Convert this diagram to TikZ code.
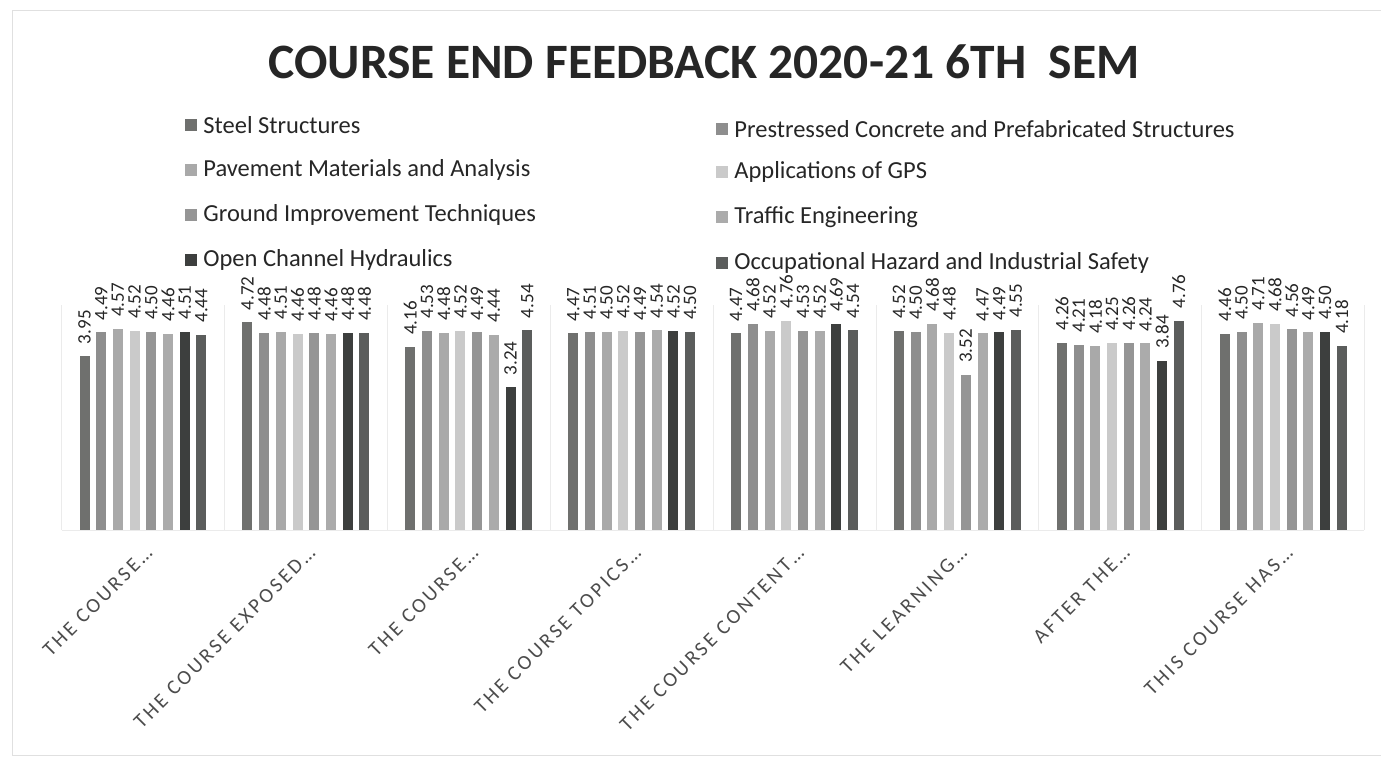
\documentclass[tikz,border=0pt]{standalone}
\usepackage{fontspec}
\setmainfont{Carlito}
\newfontfamily\catfont[LetterSpace=14]{Carlito}
\usetikzlibrary{positioning}
\definecolor{ser1}{HTML}{6F706E}
\definecolor{ser2}{HTML}{8E8E8E}
\definecolor{ser3}{HTML}{A9A9A9}
\definecolor{ser4}{HTML}{CACACA}
\definecolor{ser5}{HTML}{959595}
\definecolor{ser6}{HTML}{ABABAB}
\definecolor{ser7}{HTML}{3D3F3E}
\definecolor{ser8}{HTML}{5B5D5C}
\tikzstyle{legkey} = [rectangle, minimum size=12pt, inner sep=0pt]
\tikzstyle{legtext} = [font=\fontsize{24.5}{28}\selectfont, text=black!85, inner sep=0pt]
\tikzstyle{vallabel} = [rotate=90, anchor=west, inner sep=0pt, font=\fontsize{19}{20}\selectfont, text=black!85]
\tikzstyle{catlabel} = [rotate=45, anchor=east, inner sep=0pt, font=\catfont\fontsize{20.5}{22}\selectfont, text=black!70]
\tikzstyle{gridline} = [draw=black!8, line width=1pt]

\begin{document}
\begin{tikzpicture}[x=1pt, y=-1pt]
\useasboundingbox (0,0) rectangle (1381,758);
\draw[black!12] (1381,10) -- (12,10) -- (12,755) -- (1381,755);
\node (title)[font=\bfseries\fontsize{49.5}{56}\selectfont, text=black!85] at (704,62) {COURSE END FEEDBACK 2020-21 6TH\ \ SEM};
% legend
\node (k1)[legkey, fill=ser1] at (191,125) {};
\node (l1)[legtext, right=6pt of k1] {Steel Structures};
\node (k3)[legkey, fill=ser3] at (191,170) {};
\node (l3)[legtext, right=6pt of k3] {Pavement Materials and Analysis};
\node (k5)[legkey, fill=ser5] at (191,215) {};
\node (l5)[legtext, right=6pt of k5] {Ground Improvement Techniques};
\node (k7)[legkey, fill=ser7] at (191,260) {};
\node (l7)[legtext, right=6pt of k7] {Open Channel Hydraulics};
\node (k2)[legkey, fill=ser2] at (722,129) {};
\node (l2)[legtext, right=6pt of k2] {Prestressed Concrete and Prefabricated Structures};
\node (k4)[legkey, fill=ser4] at (722,172) {};
\node (l4)[legtext, right=6pt of k4] {Applications of GPS};
\node (k6)[legkey, fill=ser6] at (722,217) {};
\node (l6)[legtext, right=6pt of k6] {Traffic Engineering};
\node (k8)[legkey, fill=ser8] at (722,263) {};
\node (l8)[legtext, right=6pt of k8] {Occupational Hazard and Industrial Safety};
% plot area
\foreach \k in {0,...,8}
  \draw[gridline] ({61.5+\k*162.9},305) -- ({61.5+\k*162.9},530);
\draw[gridline] (61.5,530) -- (1364,530);
% bars
\foreach \g/\vals/\cat in {
  1/{3.95,4.49,4.57,4.52,4.50,4.46,4.51,4.44}/THE COURSE…,
  2/{4.72,4.48,4.51,4.46,4.48,4.46,4.48,4.48}/THE COURSE EXPOSED…,
  3/{4.16,4.53,4.48,4.52,4.49,4.44,3.24,4.54}/THE COURSE…,
  4/{4.47,4.51,4.50,4.52,4.49,4.54,4.52,4.50}/THE COURSE TOPICS…,
  5/{4.47,4.68,4.52,4.76,4.53,4.52,4.69,4.54}/THE COURSE CONTENT…,
  6/{4.52,4.50,4.68,4.48,3.52,4.47,4.49,4.55}/THE LEARNING…,
  7/{4.26,4.21,4.18,4.25,4.26,4.24,3.84,4.76}/AFTER THE…,
  8/{4.46,4.50,4.71,4.68,4.56,4.49,4.50,4.18}/THIS COURSE HAS…}{
  \pgfmathsetmacro\cx{143+(\g-1)*162.9}
  \foreach \v [count=\i] in \vals {
    \pgfmathsetmacro\bx{\cx+(\i-4.5)*16.7}
    \pgfmathsetmacro\by{530-44*\v}
    \fill[ser\i] (\bx-5,530) rectangle (\bx+5,\by);
    \node (v\g-\i)[vallabel] at (\bx,\by-12) {\v};
  }
  \node (c\g)[catlabel] at (\cx+6,550) {\cat};
}
\end{tikzpicture}
\end{document}
